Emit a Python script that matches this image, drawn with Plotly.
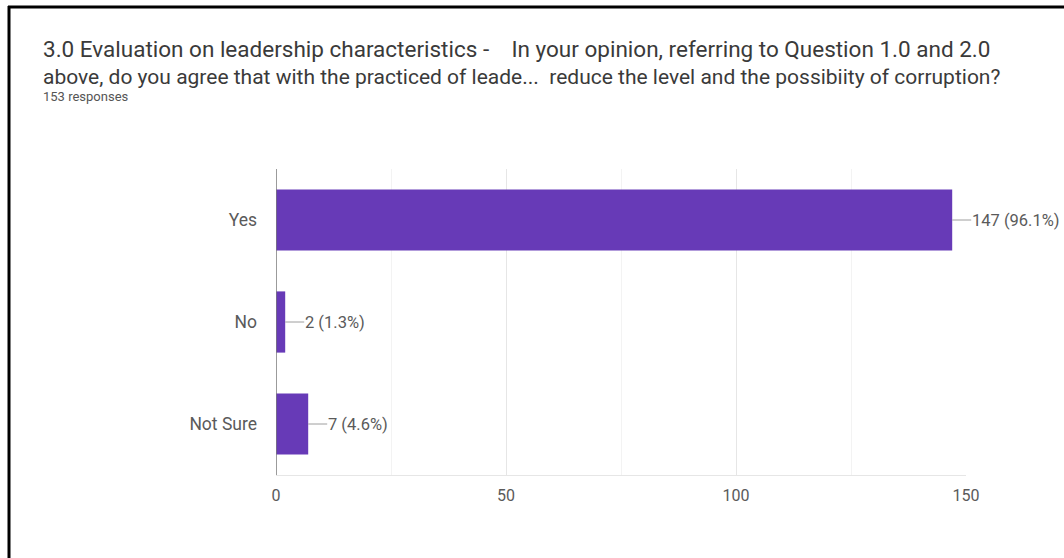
import plotly.graph_objects as go

# Survey responses
categories = ["Yes", "No", "Not Sure"]
counts = [147, 2, 7]
total_responses = 153
x_ticks = [0, 50, 100, 150]

NBSP = "\u00a0"
title_line1 = ("3.0 Evaluation on leadership characteristics -" + NBSP * 4
               + "In your opinion, referring to Question 1.0 and 2.0")
title_line2 = ("above, do you agree that with the practiced of leade..." + NBSP * 2
               + "reduce the level and the possibiity of corruption?")
subtitle = f"{total_responses} responses"

W, H = 1064, 558
L, R, T, B = 276, 98, 169, 83
PW, PH = W - L - R, H - T - B


def px_x(px):
    """Convert a page x pixel to paper coordinates."""
    return (px - L) / PW


def px_y(py):
    """Convert a page y pixel (from top) to paper coordinates."""
    return (H - B - py) / PH


purple = "#673ab7"
text_grey = "#5a5a5a"

labels = [f"{c} ({c / total_responses * 100:.1f}%)" for c in counts]

fig = go.Figure(
    go.Bar(
        x=counts,
        y=categories,
        orientation="h",
        marker=dict(color=purple, line=dict(width=0)),
        width=0.6,
        hoverinfo="skip",
    )
)

# value labels with short leader lines
for cat, val, lab in zip(categories, counts, labels):
    fig.add_annotation(
        x=val, y=cat, xref="x", yref="y",
        text=lab, showarrow=True, arrowhead=0, arrowwidth=1,
        arrowcolor="#9e9e9e", ax=19, ay=0, xanchor="left",
        borderpad=0, standoff=0,
        font=dict(family="Roboto", size=16.5, color=text_grey),
    )

# heading
fig.add_annotation(
    x=px_x(41), y=px_y(49), xref="paper", yref="paper", text=title_line1,
    showarrow=False, xanchor="left", yanchor="middle",
    font=dict(family="Roboto", size=22.5, color="#3a3a3a"),
)
fig.add_annotation(
    x=px_x(41), y=px_y(77), xref="paper", yref="paper", text=title_line2,
    showarrow=False, xanchor="left", yanchor="middle",
    font=dict(family="Roboto", size=21, color="#3a3a3a"),
)
fig.add_annotation(
    x=px_x(41), y=px_y(97), xref="paper", yref="paper", text=subtitle,
    showarrow=False, xanchor="left", yanchor="middle",
    font=dict(family="Roboto", size=13, color="#555555"),
)

# frame lines along the top and left page edges
fig.add_shape(type="line", xref="paper", yref="paper",
              x0=px_x(8), x1=px_x(W + 5), y0=px_y(7), y1=px_y(7),
              line=dict(color="black", width=3))
fig.add_shape(type="line", xref="paper", yref="paper",
              x0=px_x(9), x1=px_x(9), y0=px_y(6), y1=px_y(H + 5),
              line=dict(color="black", width=3))

# left axis line
fig.add_shape(type="line", xref="x", yref="paper",
              x0=0, x1=0, y0=0, y1=1, layer="above",
              line=dict(color="#7a7a7a", width=1.5))

fig.update_layout(
    width=W, height=H,
    margin=dict(l=L, r=R, t=T, b=B),
    paper_bgcolor="white",
    plot_bgcolor="white",
    showlegend=False,
    bargap=0.4,
    xaxis=dict(
        range=[0, 150],
        tickvals=x_ticks,
        ticktext=[str(v) for v in x_ticks],
        showgrid=True, gridcolor="#e6e6e6", gridwidth=1,
        minor=dict(dtick=25, showgrid=True, gridcolor="#f3f3f3", gridwidth=1),
        zeroline=False,
        showline=True, linecolor="#e6e6e6", linewidth=1,
        ticks="", ticklabelstandoff=6,
        tickfont=dict(family="Roboto", size=16, color=text_grey),
        fixedrange=True,
    ),
    yaxis=dict(
        autorange="reversed",
        showgrid=False, zeroline=False,
        showline=False,
        ticks="", ticklabelstandoff=18,
        tickfont=dict(family="Roboto", size=17.5, color=text_grey),
        fixedrange=True,
    ),
)

fig.write_html("out.html", config={"displayModeBar": False})
